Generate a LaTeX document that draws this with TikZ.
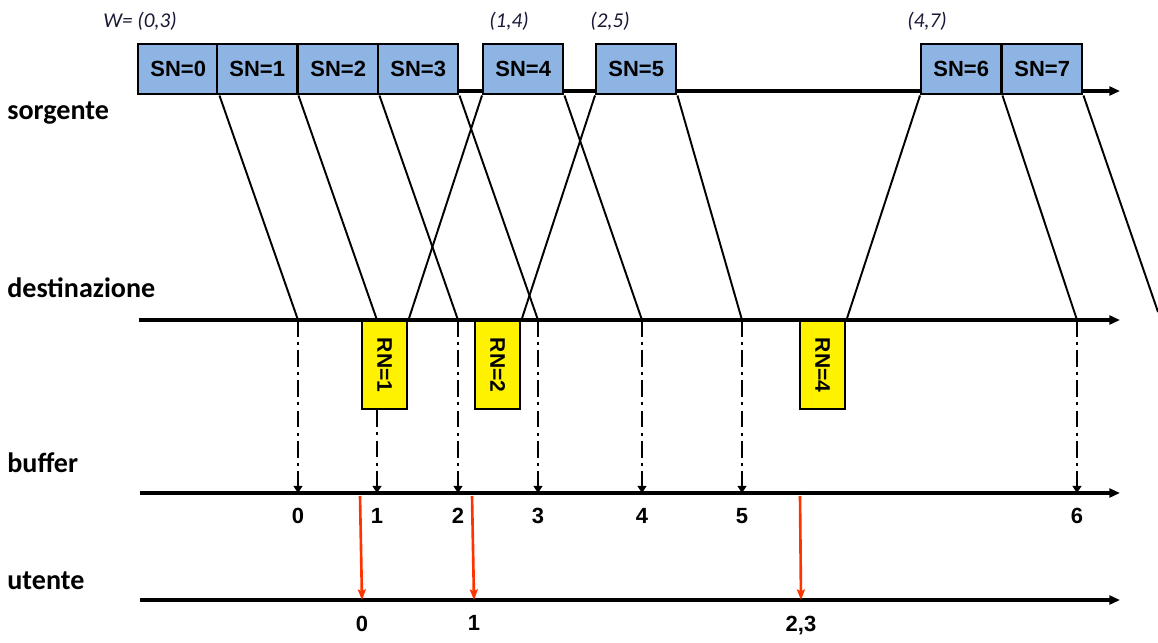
\documentclass[tikz,border=0pt]{standalone}
\usepackage{fontspec}
\setmainfont{Carlito}
\newfontfamily\arialfont{Liberation Sans}
\usetikzlibrary{arrows.meta}
\definecolor{snblue}{RGB}{141,180,226}
\definecolor{ackred}{RGB}{255,51,0}
\definecolor{winblue}{RGB}{25,25,55}
\begin{document}
\begin{tikzpicture}[x=0.02cm,y=-0.02cm,
  axis/.style={line width=1.8pt,-{Triangle[length=6pt,width=5pt]}},
  snbox/.style={draw,line width=1.4pt,fill=snblue,minimum width=1.6cm,minimum height=1cm,
    inner sep=0pt,anchor=north west,font=\arialfont\bfseries\fontsize{12.5}{14}\selectfont},
  rnbox/.style={draw,line width=1.4pt,fill=yellow,minimum width=0.9cm,minimum height=1.76cm,
    inner sep=0pt,anchor=north west},
  rnlab/.style={rotate=-90,font=\arialfont\bfseries\fontsize{12}{13}\selectfont},
  frame/.style={line width=1.1pt},
  deliver/.style={line width=1.6pt,dash pattern=on 9.5pt off 3pt on 1.7pt off 3pt,
    -{Triangle[length=4pt,width=5pt]}},
  passup/.style={ackred,line width=1.5pt,-{Stealth[length=6pt,width=4.5pt,inset=1pt]}},
  row/.style={anchor=base west,inner sep=0pt,font=\bfseries\fontsize{16}{19}\selectfont},
  num/.style={font=\arialfont\bfseries\fontsize{12.5}{14}\selectfont},
  win/.style={anchor=base west,inner sep=0pt,text=winblue,font=\itshape\fontsize{12}{14}\selectfont}]
\useasboundingbox (0,0) rectangle (1158,642);

\node[row] (lsrc) at (7,119) {sorgente};
\node[row] (ldst) at (7,297) {destinazione};
\node[row] (lbuf) at (7,472) {bu{}f{}fer};
\node[row] (lusr) at (7,589) {utente};

\coordinate (s0) at (137,91);  \coordinate (s1) at (1120,91);
\coordinate (t0) at (139,320); \coordinate (t1) at (1120,320);
\coordinate (f0) at (140,493); \coordinate (f1) at (1120,493);
\coordinate (e0) at (140,600); \coordinate (e1) at (1120,600);
\foreach \a in {s,t,f,e}{
  \draw[axis] (\a0) -- (\a1);
}

\foreach \i/\x in {0/137,1/216,2/297,3/377,4/482,5/595,6/920,7/1001}{
  \node[snbox] (sn\i) at (\x,43) {SN=\i};
}
\node[win] (w0) at (103,28) {W= (0,3)};
\node[win] (w1) at (489,28) {(1,4)};
\node[win] (w2) at (590,28) {(2,5)};
\node[win] (w4) at (907,28) {(4,7)};

\foreach \i/\x in {0/298,1/377,2/458,3/538,4/642,5/742,6/1077}{
  \coordinate (d\i) at (\x,320);
  \coordinate (b\i) at (\x,493);
  \draw[frame] (sn\i.south east) -- (d\i);
  \node[num,below=5pt] (lb\i) at (b\i) {\i};
}
\coordinate (off) at (1158,312);
\draw[frame] (sn7.south east) -- (off);

\foreach \r/\x/\s in {1/361/4,2/474/5,4/799/6}{
  \node[rnbox] (rn\r) at (\x,320) {};
  \node[rnlab] (tr\r) at (rn\r.center) {RN=\r};
  \draw[frame] (rn\r.north east) -- (sn\s.south west);
}

\foreach \i in {0,2,3,4,5,6}{
  \draw[deliver] (d\i) -- (b\i);
}
\draw[deliver] (b1 |- rn1.south) -- (b1);

\foreach \k/\xa/\xb/\lab in {0/360/362/0,1/472/474/1,23/800/801/{2,3}}{
  \coordinate (r\k) at (\xa,496);
  \coordinate (u\k) at (\xb,600);
  \draw[passup] (r\k) -- (u\k);
  \node[num,below=5.5pt] (lu\k) at (u\k) {\lab};
}
\end{tikzpicture}
\end{document}
